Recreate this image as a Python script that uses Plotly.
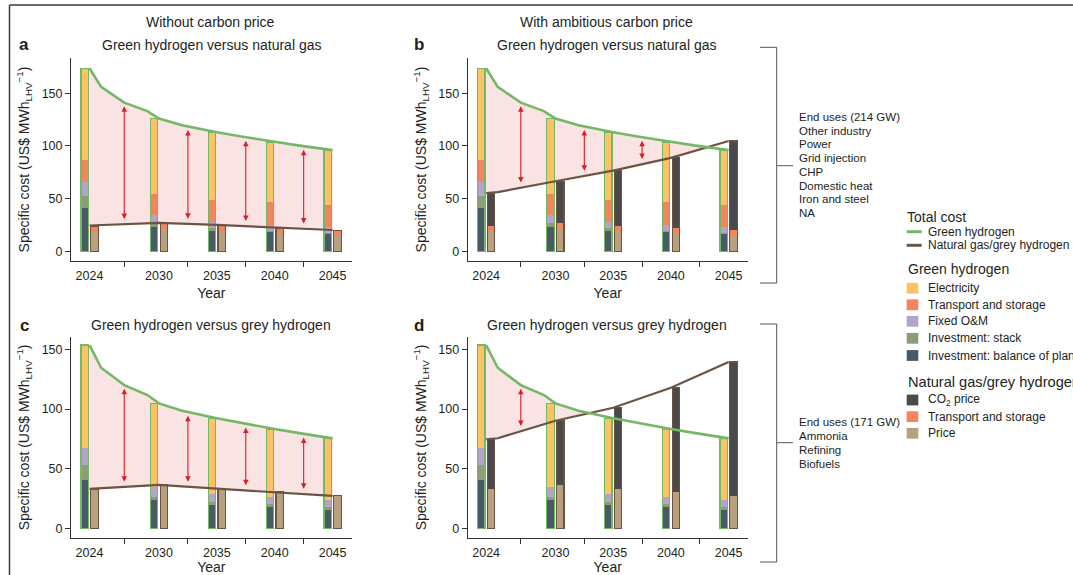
import numpy as np
import plotly.graph_objects as go

W, H = 1073, 575

# ---------------- data ----------------
years = [2024, 2030, 2035, 2040, 2045]
year_labels = ["2024", "2030", "2035", "2040", "2045"]
mid_ticks = [2027, 2032.5, 2037.5, 2042.5]
y_ticks = [0, 50, 100, 150]

# Green hydrogen cost components (panels a, b: vs natural gas, 214 GW end uses)
gh_ng_bop = [40.8, 23.5, 19.7, 18.1, 16.2]
gh_ng_stack = [12.0, 3.8, 2.2, 1.6, 1.3]
gh_ng_om = [13.2, 6.7, 6.1, 5.1, 5.7]
gh_ng_ts = [20.6, 20.7, 21.0, 21.6, 21.0]
gh_ng_elec = [87.0, 71.2, 64.2, 57.3, 51.8]

# Green hydrogen cost components (panels c, d: vs grey hydrogen, 171 GW end uses)
gh_gr_bop = [40.5, 23.5, 19.3, 18.2, 16.5]
gh_gr_stack = [12.3, 3.0, 2.5, 1.9, 1.1]
gh_gr_om = [14.5, 8.4, 7.0, 6.4, 6.1]
gh_gr_ts = [0.0, 0.0, 0.0, 0.0, 0.0]
gh_gr_elec = [86.3, 69.8, 63.4, 56.7, 51.7]

# Natural gas components
ng_price = [18.8, 21.0, 19.4, 17.2, 15.0]
ng_ts = [5.2, 5.4, 4.8, 4.8, 5.0]
ng_co2_none = [0.0, 0.0, 0.0, 0.0, 0.0]
ng_co2_amb = [31.3, 40.1, 52.4, 66.7, 84.6]

# Grey hydrogen components
grey_price = [33.0, 36.4, 33.2, 30.5, 27.2]
grey_ts = [0.0, 0.0, 0.0, 0.0, 0.0]
grey_co2_none = [0.0, 0.0, 0.0, 0.0, 0.0]
grey_co2_amb = [41.6, 53.8, 67.9, 87.4, 112.2]

# Total cost lines
green_line_years = [2024, 2025, 2027, 2029, 2030, 2032, 2035, 2037, 2040, 2042, 2045]
green_total_ng = [173.6, 156.0, 141.0, 133.0, 126.0, 119.6, 113.0, 109.1, 104.0, 100.5, 96.0]
green_total_grey = [153.6, 134.6, 120.0, 111.7, 104.7, 98.5, 92.2, 88.4, 83.2, 80.0, 75.4]

ng_none_years = [2024, 2030, 2035, 2040, 2045]
ng_total_none = [24.5, 27.0, 25.0, 22.6, 20.2]
ng_amb_years = [2024, 2025, 2030, 2035, 2040, 2045]
ng_total_amb = [55.3, 56.2, 66.5, 76.6, 88.7, 104.6]
grey_none_years = [2024, 2030, 2035, 2040, 2045]
grey_total_none = [33.0, 36.4, 33.2, 30.5, 27.2]
grey_amb_years = [2024, 2025, 2030, 2035, 2040, 2045]
grey_total_amb = [74.6, 75.5, 90.2, 101.1, 117.9, 139.4]

end_uses_ng = ["End uses (214 GW)", "Other industry", "Power", "Grid injection",
               "CHP", "Domestic heat", "Iron and steel", "NA"]
end_uses_grey = ["End uses (171 GW)", "Ammonia", "Refining", "Biofuels"]

# ---------------- styles ----------------
C_ELEC = "#fdc263"
C_TS = "#f4845b"
C_OM = "#b3a3cd"
C_STACK = "#8e9d78"
C_BOP = "#475a66"
C_CO2 = "#4a4a4a"
C_PRICE = "#b9a07e"
C_GREEN = "#74b866"
C_BROWN = "#6b5444"
C_FILL = "#fae3e3"
C_ARROW = "#d71f26"
C_AXIS = "#333333"
FONT = "Liberation Sans, Arial, sans-serif"
TXT = "#231f20"


def px(x):
    return x / W


def py(y):
    return 1 - y / H


fig = go.Figure()
shapes = []
annotations = []

XR = [2022.4, 2046.65]
BW = 0.64
OFF = 0.425

panels = [
    dict(ax="", xd=[71, 351.7], yd=[58.3, 260.7], yr=[-8.9, 183.1],
         green=[gh_ng_bop, gh_ng_stack, gh_ng_om, gh_ng_ts, gh_ng_elec],
         fossil=[ng_price, ng_ts, ng_co2_none],
         gline=(green_line_years, green_total_ng),
         bline=(ng_none_years, ng_total_none)),
    dict(ax="2", xd=[467.7, 747.7], yd=[58.3, 260.7], yr=[-8.9, 183.1],
         green=[gh_ng_bop, gh_ng_stack, gh_ng_om, gh_ng_ts, gh_ng_elec],
         fossil=[ng_price, ng_ts, ng_co2_amb],
         gline=(green_line_years, green_total_ng),
         bline=(ng_amb_years, ng_total_amb)),
    dict(ax="3", xd=[71, 351.7], yd=[336.5, 538.3], yr=[-8.4, 160.8],
         green=[gh_gr_bop, gh_gr_stack, gh_gr_om, gh_gr_ts, gh_gr_elec],
         fossil=[grey_price, grey_ts, grey_co2_none],
         gline=(green_line_years, green_total_grey),
         bline=(grey_none_years, grey_total_none)),
    dict(ax="4", xd=[467.7, 747.7], yd=[336.5, 538.3], yr=[-8.4, 160.8],
         green=[gh_gr_bop, gh_gr_stack, gh_gr_om, gh_gr_ts, gh_gr_elec],
         fossil=[grey_price, grey_ts, grey_co2_amb],
         gline=(green_line_years, green_total_grey),
         bline=(grey_amb_years, grey_total_amb)),
]

green_colors = [C_BOP, C_STACK, C_OM, C_TS, C_ELEC]
fossil_colors = [C_PRICE, C_TS, C_CO2]

for p in panels:
    xa = "x" + p["ax"]
    ya = "y" + p["ax"]
    gx = [y - OFF for y in years]
    fx = [y + OFF for y in years]
    for vals, col in zip(p["green"], green_colors):
        fig.add_trace(go.Bar(x=gx, y=vals, width=BW, marker=dict(color=col, line=dict(width=0)),
                             xaxis=xa, yaxis=ya, showlegend=False, hoverinfo="skip"))
    for vals, col in zip(p["fossil"], fossil_colors):
        fig.add_trace(go.Bar(x=fx, y=vals, width=BW, marker=dict(color=col, line=dict(width=0)),
                             xaxis=xa, yaxis=ya, showlegend=False, hoverinfo="skip"))
    gtot = np.sum(np.array(p["green"]), axis=0)
    ftot = np.sum(np.array(p["fossil"]), axis=0)
    fig.add_trace(go.Bar(x=gx, y=gtot, base=[0] * len(years), width=BW,
                         marker=dict(color="rgba(0,0,0,0)", line=dict(color=C_GREEN, width=1.2)),
                         xaxis=xa, yaxis=ya, showlegend=False, hoverinfo="skip"))
    fig.add_trace(go.Bar(x=fx, y=ftot, base=[0] * len(years), width=BW,
                         marker=dict(color="rgba(0,0,0,0)", line=dict(color=C_BROWN, width=1.2)),
                         xaxis=xa, yaxis=ya, showlegend=False, hoverinfo="skip"))

    # pink area where green is more expensive
    gxl, gyl = p["gline"]
    bxl, byl = p["bline"]
    xs = np.linspace(years[0], years[-1], 1681)
    gi = np.interp(xs, gxl, gyl)
    bi = np.interp(xs, bxl, byl)
    lo = np.minimum(gi, bi)
    pts = [f"{x:.4f},{y:.4f}" for x, y in zip(xs, gi)] + \
          [f"{x:.4f},{y:.4f}" for x, y in zip(xs[::-1], lo[::-1])]
    path = "M " + " L ".join(pts) + " Z"
    shapes.append(dict(type="path", path=path, xref=xa, yref=ya, fillcolor=C_FILL,
                       line=dict(width=0), layer="below"))

    fig.add_trace(go.Scatter(x=bxl, y=byl, mode="lines", line=dict(color=C_BROWN, width=2.2),
                             xaxis=xa, yaxis=ya, showlegend=False, hoverinfo="skip"))
    fig.add_trace(go.Scatter(x=gxl, y=gyl, mode="lines", line=dict(color=C_GREEN, width=2.6),
                             xaxis=xa, yaxis=ya, showlegend=False, hoverinfo="skip"))

    inset = 0.018 * (p["yr"][1] - p["yr"][0])
    for xm in mid_ticks:
        gt = float(np.interp(xm, gxl, gyl))
        bt = float(np.interp(xm, bxl, byl))
        if gt - bt > 12:
            annotations.append(dict(x=xm, y=gt - inset, ax=xm, ay=bt + inset,
                                    xref=xa, yref=ya, axref=xa, ayref=ya, text="",
                                    showarrow=True, arrowhead=2, arrowside="end+start",
                                    arrowsize=1.0, arrowwidth=1.1, arrowcolor=C_ARROW,
                                    standoff=0, startstandoff=0))

    xkey = "xaxis" + p["ax"]
    ykey = "yaxis" + p["ax"]
    fig.update_layout(**{
        xkey: dict(domain=[px(p["xd"][0]), px(p["xd"][1])], range=XR, anchor=ya,
                   showline=True, linecolor=C_AXIS, linewidth=1, showgrid=False, zeroline=False,
                   tickmode="array", tickvals=years, ticktext=year_labels,
                   ticks="outside", ticklen=3, tickcolor="rgba(0,0,0,0)",
                   tickfont=dict(family=FONT, size=12.5, color=TXT),
                   minor=dict(tickmode="array", tickvals=mid_ticks, ticks="outside",
                              ticklen=5, tickwidth=1, tickcolor=C_AXIS),
                   title=dict(text="Year", font=dict(family=FONT, size=14, color=TXT), standoff=6)),
        ykey: dict(domain=[py(p["yd"][1]), py(p["yd"][0])], range=p["yr"], anchor=xa,
                   showline=True, linecolor=C_AXIS, linewidth=1, showgrid=False, zeroline=False,
                   tickmode="array", tickvals=y_ticks, ticks="outside", ticklen=5,
                   tickwidth=1, tickcolor=C_AXIS,
                   tickfont=dict(family=FONT, size=12.5, color=TXT),
                   title=dict(text="Specific cost (US$ MWh<sub>LHV</sub><sup>−1</sup>)",
                              font=dict(family=FONT, size=14, color=TXT), standoff=8)),
    })


def text(x, y, s, size=12, xanchor="left", bold=False):
    annotations.append(dict(x=px(x), y=py(y), xref="paper", yref="paper", text=("<b>%s</b>" % s) if bold else s,
                            showarrow=False, xanchor=xanchor, yanchor="middle",
                            font=dict(family=FONT, size=size, color=TXT)))


# headings
text(210, 22, "Without carbon price", 14, "center")
text(606, 22, "With ambitious carbon price", 14, "center")
text(24, 45, "a", 17, "center", bold=True)
text(419, 45, "b", 17, "center", bold=True)
text(24, 325, "c", 17, "center", bold=True)
text(419, 325, "d", 17, "center", bold=True)
text(211, 45, "Green hydrogen versus natural gas", 14, "center")
text(606, 45, "Green hydrogen versus natural gas", 14, "center")
text(211, 325, "Green hydrogen versus grey hydrogen", 14, "center")
text(607, 325, "Green hydrogen versus grey hydrogen", 14, "center")


def line(x0, y0, x1, y1, color="#555555", width=1.0):
    shapes.append(dict(type="line", xref="paper", yref="paper", x0=px(x0), y0=py(y0),
                       x1=px(x1), y1=py(y1), line=dict(color=color, width=width)))


# brackets
for top, bot, mid in [(47.3, 283, 165.7), (324, 562, 442.7)]:
    line(760, top, 776.7, top)
    line(776.7, top, 776.7, bot)
    line(760, bot, 776.7, bot)
    line(776.7, mid, 793, mid)

for i, s in enumerate(end_uses_ng):
    text(797, 116.7 + i * 13.8, s, 11.5)
for i, s in enumerate(end_uses_grey):
    text(797, 422.3 + i * 13.8, s, 11.5)

# legend
text(904.5, 216.7, "Total cost", 14)
line(906.7, 231.7, 921.7, 231.7, C_GREEN, 3)
line(906.7, 245.3, 921.7, 245.3, C_BROWN, 3)
text(925.7, 231.7, "Green hydrogen", 12)
text(925.7, 245.3, "Natural gas/grey hydrogen", 12)

text(905.5, 269.3, "Green hydrogen", 14)
legend_green = [("Electricity", C_ELEC), ("Transport and storage", C_TS), ("Fixed O&M", C_OM),
                ("Investment: stack", C_STACK), ("Investment: balance of plant", C_BOP)]
for (lab, col), yc in zip(legend_green, [288.3, 304.8, 321.3, 338.3, 355.5]):
    shapes.append(dict(type="rect", xref="paper", yref="paper", x0=px(906.7), x1=px(918.3),
                       y0=py(yc + 5.4), y1=py(yc - 5.4), fillcolor=col, line=dict(width=0)))
    text(925.7, yc, lab, 12)

text(905.5, 381.7, "Natural gas/grey hydrogen", 14.6)
legend_fossil = [("CO<sub>2</sub> price", C_CO2), ("Transport and storage", C_TS), ("Price", C_PRICE)]
for (lab, col), yc in zip(legend_fossil, [400, 416.7, 433.3]):
    shapes.append(dict(type="rect", xref="paper", yref="paper", x0=px(906.7), x1=px(918.3),
                       y0=py(yc + 5.4), y1=py(yc - 5.4), fillcolor=col, line=dict(width=0)))
    text(925.7, yc, lab, 12)

# frame
line(9.5, 5, 9.5, 575, "#3a3a3a", 1.5)
line(9.5, 5, 1073, 5, "#3a3a3a", 1.5)

fig.update_layout(width=W, height=H, margin=dict(l=0, r=0, t=0, b=0),
                  paper_bgcolor="white", plot_bgcolor="rgba(0,0,0,0)",
                  barmode="stack", shapes=shapes, annotations=annotations,
                  font=dict(family=FONT, color=TXT), showlegend=False)

fig.write_html("out.html", config={"displayModeBar": False},
               post_script="document.body.style.margin='0px';document.body.style.overflow='hidden';")
